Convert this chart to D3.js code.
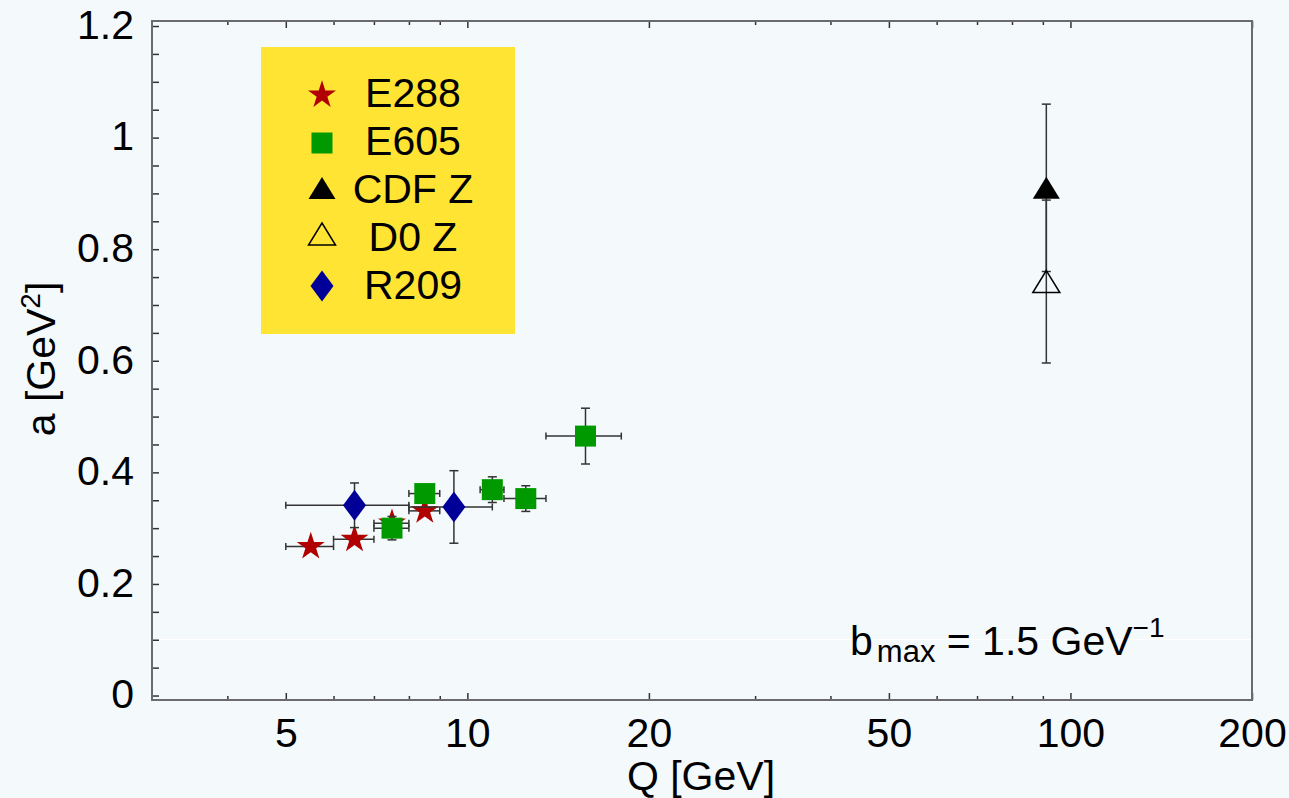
<!DOCTYPE html>
<html>
<head>
<meta charset="utf-8">
<script src="https://cdn.jsdelivr.net/npm/d3@7"></script>
<style>
  body { margin: 0; background: #f4f9fc; }
  svg { display: block; font-family: 'Liberation Sans', Arial, sans-serif; }
</style>
</head>
<body>
<div class="container"></div>
<script>
// data: a [GeV^2] vs Q [GeV], b_max = 1.5 GeV^-1
const e288Q = [5.5, 6.5, 7.5, 8.5];
const e288QLo = [5, 6, 7, 8];
const e288QHi = [6, 7, 8, 9];
const e288A = [0.267, 0.280, 0.309, 0.331];
const e288Err = [0.004, 0.004, 0.004, 0.004];

const e605Q = [7.5, 8.5, 11, 12.5, 15.7];
const e605QLo = [7, 8, 10.5, 11.5, 13.5];
const e605QHi = [8, 9, 11.5, 13.5, 18];
const e605A = [0.300, 0.362, 0.369, 0.353, 0.465];
const e605Err = [0.021, 0.015, 0.023, 0.023, 0.05];

const cdfQ = [91.2];
const cdfA = [0.91];
const cdfErr = [0.15];

const d0Q = [91.2];
const d0A = [0.742];
const d0Err = [0.146];

const r209Q = [6.5, 9.5];
const r209QLo = [5, 8];
const r209QHi = [8, 11];
const r209A = [0.341, 0.338];
const r209Err = [0.04, 0.065];

const legendNames = ['E288', 'E605', 'CDF Z', 'D0 Z', 'R209'];
const xMajor = [5, 10, 20, 50, 100, 200];
const xMinor = [4, 6, 7, 8, 9, 30, 40, 60, 70, 80, 90];
const yTicks = d3.range(0, 1.2001, 0.05);
const yLabels = [0, 0.2, 0.4, 0.6, 0.8, 1, 1.2];

const width = 1289;
const height = 798;
const plotLeft = 152, plotRight = 1252, plotTop = 21, plotBottom = 700;
const fontSize = 41;

const x = d3.scaleLog().domain([3, 200]).range([plotLeft, plotRight]);
const y = d3.scaleLinear().domain([-0.008, 1.209]).range([plotBottom, plotTop]);

const svg = d3.select('.container')
  .append('svg')
  .attr('width', width)
  .attr('height', height);

svg.append('rect')
  .attr('width', width)
  .attr('height', height)
  .attr('fill', '#f4f9fc');

// marker shapes
const starPath = (R) => {
  const pts = [];
  for (let i = 0; i < 10; i++) {
    const r = i % 2 === 0 ? R : R * 0.382;
    const ang = -Math.PI / 2 + i * Math.PI / 5;
    pts.push([r * Math.cos(ang), r * Math.sin(ang)]);
  }
  return 'M' + pts.map(p => p.join(',')).join('L') + 'Z';
};
const squarePath = (s) => `M${-s/2},${-s/2}h${s}v${s}h${-s}Z`;
const trianglePath = (w, h) => `M0,${-h/2}L${w/2},${h/2}L${-w/2},${h/2}Z`;
const diamondPath = (w, h) => `M0,${-h/2}L${w/2},0L0,${h/2}L${-w/2},0Z`;

const markers = {
  E288: { d: starPath(14.7), fill: '#b00000', stroke: 'none' },
  E605: { d: squarePath(21), fill: '#009a00', stroke: 'none' },
  CDF: { d: trianglePath(27, 22), fill: '#000000', stroke: 'none' },
  D0: { d: trianglePath(27, 22), fill: 'none', stroke: '#000000' },
  R209: { d: diamondPath(23, 31), fill: '#000099', stroke: 'none' }
};

// white seam across the plot
svg.append('line')
  .attr('x1', plotLeft).attr('x2', plotRight)
  .attr('y1', 639.5).attr('y2', 639.5)
  .attr('stroke', '#ffffff')
  .attr('stroke-width', 1);

// axes
const yAxis = d3.axisLeft(y)
  .tickValues(yTicks)
  .tickSize(-7)
  .tickPadding(18)
  .tickFormat(d => yLabels.some(v => Math.abs(v - d) < 1e-6) ? d3.format('~g')(d) : '');
svg.append('g')
  .attr('transform', `translate(${plotLeft},0)`)
  .call(yAxis)
  .call(g => g.select('.domain').remove())
  .call(g => g.selectAll('line').attr('stroke', '#333').attr('stroke-width', 1.5))
  .call(g => g.selectAll('text').attr('font-size', fontSize).attr('fill', '#000')
    .attr('font-family', "'Liberation Sans', Arial, sans-serif").attr('dy', '0.3em'));

const xAxis = d3.axisBottom(x)
  .tickValues(xMajor)
  .tickSize(-7)
  .tickPadding(18)
  .tickFormat(d3.format('d'));
svg.append('g')
  .attr('transform', `translate(0,${plotBottom})`)
  .call(xAxis)
  .call(g => g.select('.domain').remove())
  .call(g => g.selectAll('line').attr('stroke', '#333').attr('stroke-width', 1.5))
  .call(g => g.selectAll('text').attr('font-size', fontSize).attr('fill', '#000')
    .attr('font-family', "'Liberation Sans', Arial, sans-serif"));

svg.append('g')
  .attr('transform', `translate(0,${plotBottom})`)
  .call(d3.axisBottom(x).tickValues(xMinor).tickSize(-4).tickFormat(''))
  .call(g => g.select('.domain').remove())
  .call(g => g.selectAll('line').attr('stroke', '#333').attr('stroke-width', 1.5));

svg.append('g')
  .attr('transform', `translate(0,${plotTop})`)
  .call(d3.axisTop(x).tickValues(xMajor).tickSize(-7).tickFormat(''))
  .call(g => g.select('.domain').remove())
  .call(g => g.selectAll('line').attr('stroke', '#333').attr('stroke-width', 1.5));

svg.append('g')
  .attr('transform', `translate(0,${plotTop})`)
  .call(d3.axisTop(x).tickValues(xMinor).tickSize(-4).tickFormat(''))
  .call(g => g.select('.domain').remove())
  .call(g => g.selectAll('line').attr('stroke', '#333').attr('stroke-width', 1.5));

// frame
svg.append('rect')
  .attr('x', plotLeft).attr('y', plotTop)
  .attr('width', plotRight - plotLeft).attr('height', plotBottom - plotTop)
  .attr('fill', 'none')
  .attr('stroke', '#6b6b6b')
  .attr('stroke-width', 2);

// axis titles
svg.append('text')
  .attr('x', 701)
  .attr('y', 790)
  .attr('text-anchor', 'middle')
  .attr('font-size', fontSize)
  .text('Q [GeV]');

const yTitle = svg.append('text')
  .attr('transform', 'translate(55,359) rotate(-90)')
  .attr('text-anchor', 'middle')
  .attr('font-size', fontSize);
yTitle.append('tspan').text('a [GeV');
yTitle.append('tspan').attr('font-size', 28).attr('dy', -15).text('2');
yTitle.append('tspan').attr('dy', 15).text(']');

// b_max note
const note = svg.append('text')
  .attr('x', 850)
  .attr('y', 655)
  .attr('font-size', fontSize);
note.append('tspan').text('b');
note.append('tspan').attr('font-size', 31).attr('dy', 7).attr('dx', 4).text('max');
note.append('tspan').attr('dy', -7).text(' = 1.5 GeV');
note.append('tspan').attr('font-size', 28).attr('dy', -18).text('\u22121');

// legend
svg.append('rect')
  .attr('x', 261).attr('y', 47)
  .attr('width', 254).attr('height', 287)
  .attr('fill', '#ffe433');

const legendKeys = ['E288', 'E605', 'CDF', 'D0', 'R209'];
const legendSymY = [95, 143, 188, 234, 286];
legendKeys.forEach((k, i) => {
  const m = markers[k];
  svg.append('path')
    .attr('d', m.d)
    .attr('transform', `translate(322,${legendSymY[i]})`)
    .attr('fill', m.fill)
    .attr('stroke', m.stroke)
    .attr('stroke-width', 1.5);
  svg.append('text')
    .attr('x', 413)
    .attr('y', 107 + 48 * i)
    .attr('text-anchor', 'middle')
    .attr('font-size', fontSize)
    .text(legendNames[i]);
});

// error bars and markers
const errColor = '#333';
function drawSeries(key, Q, A, err, QLo, QHi) {
  const g = svg.append('g');
  Q.forEach((q, i) => {
    const cx = x(q), cy = y(A[i]);
    if (QLo) {
      g.append('line').attr('x1', x(QLo[i])).attr('x2', x(QHi[i])).attr('y1', cy).attr('y2', cy);
      g.append('line').attr('x1', x(QLo[i])).attr('x2', x(QLo[i])).attr('y1', cy - 3.5).attr('y2', cy + 3.5);
      g.append('line').attr('x1', x(QHi[i])).attr('x2', x(QHi[i])).attr('y1', cy - 3.5).attr('y2', cy + 3.5);
    }
    const y1 = y(A[i] + err[i]), y2 = y(A[i] - err[i]);
    g.append('line').attr('x1', cx).attr('x2', cx).attr('y1', y1).attr('y2', y2);
    g.append('line').attr('x1', cx - 4.5).attr('x2', cx + 4.5).attr('y1', y1).attr('y2', y1);
    g.append('line').attr('x1', cx - 4.5).attr('x2', cx + 4.5).attr('y1', y2).attr('y2', y2);
  });
  g.selectAll('line').attr('stroke', errColor).attr('stroke-width', 1.5);
  const m = markers[key];
  g.selectAll('path')
    .data(Q)
    .enter()
    .append('path')
    .attr('d', m.d)
    .attr('transform', (d, i) => `translate(${x(d)},${y(A[i])})`)
    .attr('fill', m.fill)
    .attr('stroke', m.stroke)
    .attr('stroke-width', 1.5);
}

drawSeries('E288', e288Q, e288A, e288Err, e288QLo, e288QHi);
drawSeries('E605', e605Q, e605A, e605Err, e605QLo, e605QHi);
drawSeries('CDF', cdfQ, cdfA, cdfErr);
drawSeries('D0', d0Q, d0A, d0Err);
drawSeries('R209', r209Q, r209A, r209Err, r209QLo, r209QHi);
</script>
</body>
</html>
